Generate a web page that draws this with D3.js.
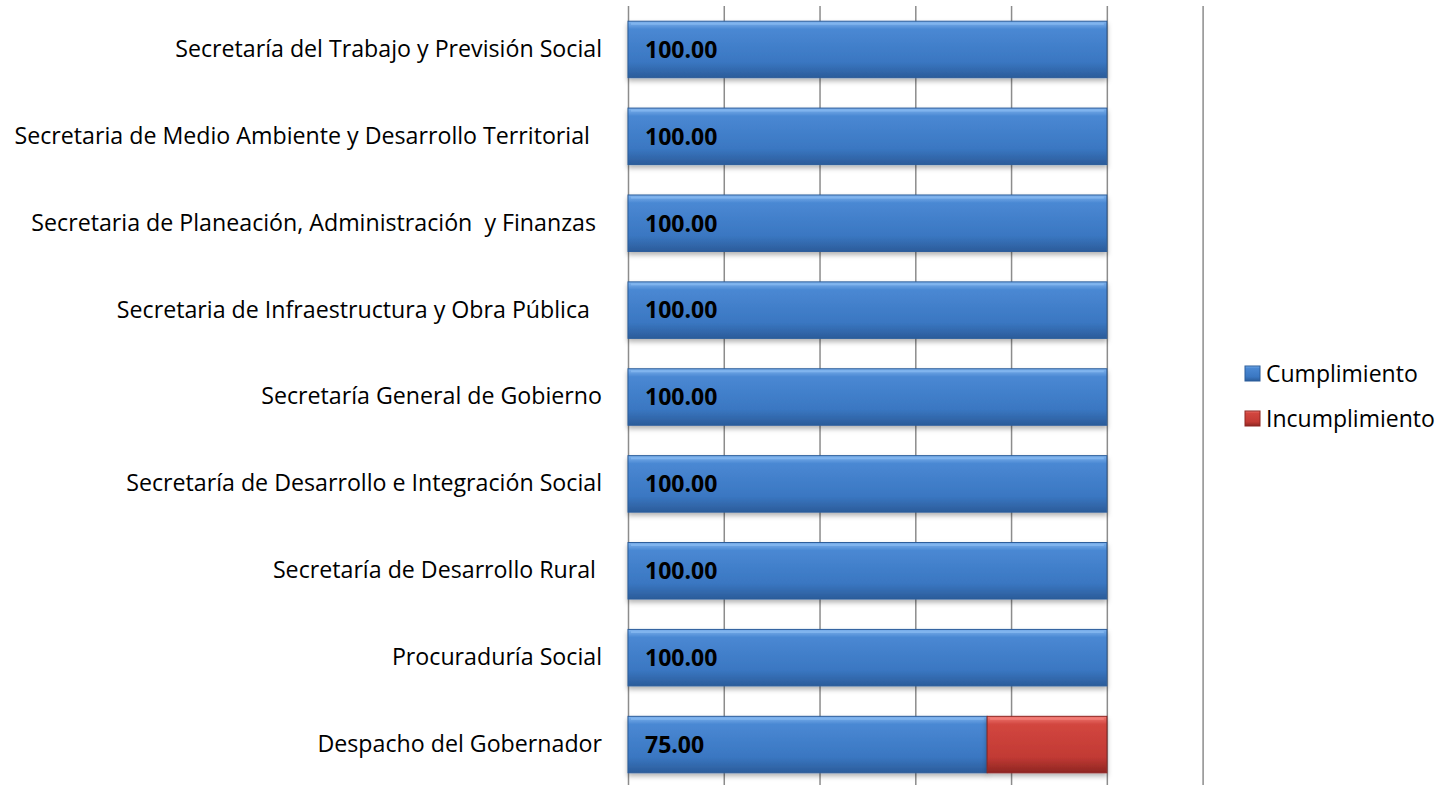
<!DOCTYPE html>
<html>
<head>
<meta charset="utf-8">
<script src="https://cdn.jsdelivr.net/npm/d3@7"></script>
<style>
  body { margin: 0; background: #fff; }
  text { white-space: pre; }
</style>
</head>
<body>
<div id="chart"></div>
<script>
// data
const categories = [
    "Secretaría del Trabajo y Previsión Social",
    "Secretaria de Medio Ambiente y Desarrollo Territorial  ",
    "Secretaria de Planeación, Administración  y Finanzas ",
    "Secretaria de Infraestructura y Obra Pública  ",
    "Secretaría General de Gobierno",
    "Secretaría de Desarrollo e Integración Social",
    "Secretaría de Desarrollo Rural ",
    "Procuraduría Social",
    "Despacho del Gobernador"
];
const cumplimiento = [100, 100, 100, 100, 100, 100, 100, 100, 75];
const incumplimiento = [0, 0, 0, 0, 0, 0, 0, 0, 25];
const seriesNames = ["Cumplimiento", "Incumplimiento"];
const xTicks = [0, 20, 40, 60, 80, 100, 120];

function renderChart() {
    const width = 1455, height = 785;
    const font = "'Open Sans', sans-serif";

    const table = categories.map((c, i) => ({
        cat: c, Cumplimiento: cumplimiento[i], Incumplimiento: incumplimiento[i]
    }));
    const stacked = d3.stack().keys(seriesNames)(table);

    const x = d3.scaleLinear().domain([0, 120]).range([628, 1202.6]);
    const y = d3.scaleBand().domain(categories).range([6, 788])
        .paddingInner(0.35).paddingOuter(0.175);

    const svg = d3.select("#chart").append("svg")
        .attr("width", width).attr("height", height);

    const defs = svg.append("defs");
    const grads = {
        Cumplimiento: ["#80b4ee", "#4a88d3", "#3a77c2", "#2b5c9a"],
        Incumplimiento: ["#f27c76", "#d2463f", "#c23a34", "#8e2622"]
    };
    seriesNames.forEach(k => {
        const g = defs.append("linearGradient").attr("id", "g-" + k)
            .attr("x1", 0).attr("y1", 0).attr("x2", 0).attr("y2", 1);
        const c = grads[k];
        g.append("stop").attr("offset", "0%").attr("stop-color", c[0]);
        g.append("stop").attr("offset", "14%").attr("stop-color", c[1]);
        g.append("stop").attr("offset", "72%").attr("stop-color", c[2]);
        g.append("stop").attr("offset", "100%").attr("stop-color", c[3]);
    });
    const shadow = defs.append("filter").attr("id", "shadow")
        .attr("x", "-5%").attr("y", "-20%").attr("width", "110%").attr("height", "160%");
    shadow.append("feDropShadow").attr("dx", 0).attr("dy", 3)
        .attr("stdDeviation", 2.5).attr("flood-color", "#000").attr("flood-opacity", 0.3);

    // gridlines
    svg.append("g")
        .attr("transform", `translate(0,${height})`)
        .call(d3.axisBottom(x).tickValues(xTicks).tickSize(-(height - 6)).tickFormat(""))
        .call(g => g.select(".domain").remove())
        .call(g => g.selectAll(".tick line").attr("stroke", "#8c8c8c").attr("stroke-width", 1.5));

    // category labels
    svg.append("g")
        .attr("transform", `translate(${x(0)},0)`)
        .call(d3.axisLeft(y).tickSize(0).tickPadding(26))
        .call(g => g.select(".domain").remove())
        .call(g => g.selectAll("text")
            .attr("font-family", font).attr("font-size", 23.2).attr("fill", "#000"));

    // bars
    const bars = svg.append("g").selectAll("g")
        .data(stacked)
        .join("g")
        .attr("filter", "url(#shadow)");
    bars.selectAll("rect")
        .data(d => d.filter(p => p[1] > p[0]).map(p => Object.assign(p, {key: d.key})))
        .join("rect")
        .attr("fill", d => `url(#g-${d.key})`)
        .attr("stroke", d => grads[d.key][3])
        .attr("x", d => x(d[0]))
        .attr("y", d => y(d.data.cat))
        .attr("width", d => x(d[1]) - x(d[0]))
        .attr("height", y.bandwidth());

    // bevel highlight on the top edge
    bars.selectAll("line")
        .data(d => d.filter(p => p[1] > p[0]))
        .join("line")
        .attr("x1", d => x(d[0]) + 3)
        .attr("x2", d => x(d[1]) - 3)
        .attr("y1", d => y(d.data.cat) + 2.5)
        .attr("y2", d => y(d.data.cat) + 2.5)
        .attr("stroke", d => grads[d.key][0])
        .attr("stroke-width", 2);

    // value labels
    svg.append("g").selectAll("text")
        .data(table)
        .join("text")
        .attr("x", x(0) + 17)
        .attr("y", d => y(d.cat) + y.bandwidth() / 2)
        .attr("dy", "0.36em")
        .attr("font-family", font).attr("font-weight", "bold").attr("font-size", 23)
        .text(d => d.Cumplimiento.toFixed(2));

    // legend
    const legend = svg.append("g").attr("transform", "translate(1245,366)");
    const item = legend.selectAll("g")
        .data(seriesNames)
        .join("g")
        .attr("transform", (d, i) => `translate(0,${i * 45})`);
    item.append("rect")
        .attr("width", 15).attr("height", 15)
        .attr("fill", d => `url(#g-${d})`)
        .attr("stroke", d => grads[d][3]);
    item.append("text")
        .attr("x", 21).attr("y", 7.5).attr("dy", "0.36em")
        .attr("font-family", font).attr("font-size", 23)
        .text(d => d);
}

renderChart();
</script>
</body>
</html>
